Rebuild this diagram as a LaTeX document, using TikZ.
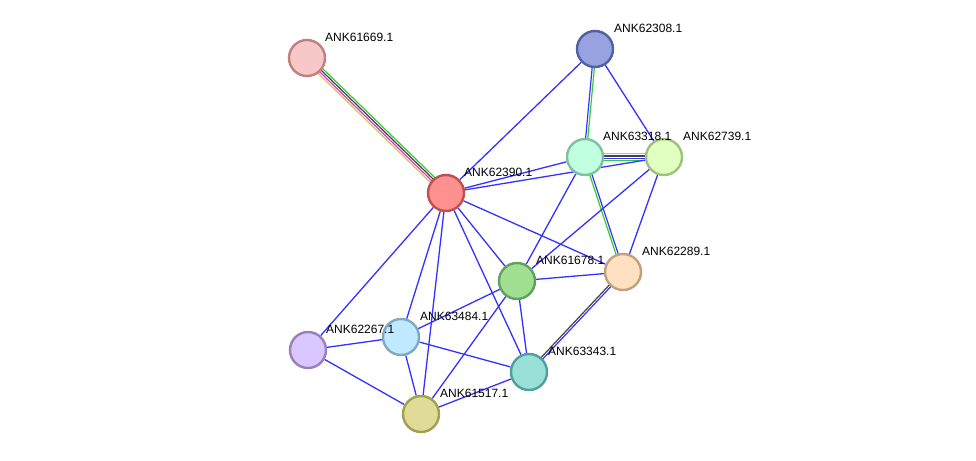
\documentclass[tikz,border=0pt]{standalone}
\usepackage{fontspec}
\setmainfont{Liberation Sans}
\usetikzlibrary{calc,backgrounds}
\definecolor{eblue}{HTML}{3333FF}
\definecolor{egreen}{HTML}{33CC33}
\definecolor{egray}{HTML}{444444}
\definecolor{emag}{HTML}{DD33DD}
\definecolor{eyel}{HTML}{C8C850}
\tikzset{
  prot/.style={circle, draw, line width=2.4pt, minimum size=36pt, inner sep=0pt},
  lbl/.style={anchor=south west, inner sep=0pt, font=\fontsize{12}{12}\selectfont, text=black},
  edge/.style={eblue, line width=1.3pt},
  par/.style={line width=1.2pt}
}
\newcommand{\offline}[4]{% color, offset, a, b
  \draw[par,#1] ($(#3.center)!#2!90:(#4.center)$) -- ($(#4.center)!#2!-90:(#3.center)$);}
\begin{document}
\begin{tikzpicture}[x=1pt,y=-1pt]
\useasboundingbox (0,0) rectangle (976,460);
% nodes
\node[prot, fill={rgb,255:red,248;green,200;blue,200}, draw={rgb,255:red,192;green,128;blue,128}] (n61669) at (307,58) {};
\node[prot, fill={rgb,255:red,152;green,162;blue,224}, draw={rgb,255:red,80;green,96;blue,160}] (n62308) at (595,49) {};
\node[prot, fill={rgb,255:red,255;green,144;blue,144}, draw={rgb,255:red,192;green,80;blue,80}] (n62390) at (446,193) {};
\node[prot, fill={rgb,255:red,192;green,255;blue,224}, draw={rgb,255:red,128;green,192;blue,160}] (n63318) at (585,157) {};
\node[prot, fill={rgb,255:red,224;green,255;blue,192}, draw={rgb,255:red,160;green,192;blue,128}] (n62739) at (664,157) {};
\node[prot, fill={rgb,255:red,255;green,224;blue,192}, draw={rgb,255:red,192;green,160;blue,128}] (n62289) at (623,272) {};
\node[prot, fill={rgb,255:red,160;green,224;blue,144}, draw={rgb,255:red,96;green,160;blue,96}] (n61678) at (517,281) {};
\node[prot, fill={rgb,255:red,216;green,200;blue,255}, draw={rgb,255:red,152;green,128;blue,192}] (n62267) at (308,350) {};
\node[prot, fill={rgb,255:red,192;green,232;blue,255}, draw={rgb,255:red,128;green,168;blue,192}] (n63484) at (401,337) {};
\node[prot, fill={rgb,255:red,152;green,224;blue,216}, draw={rgb,255:red,80;green,160;blue,152}] (n63343) at (529,372) {};
\node[prot, fill={rgb,255:red,224;green,220;blue,152}, draw={rgb,255:red,160;green,160;blue,80}] (n61517) at (421,414) {};
% labels
\node[lbl] (l61669) at (325,42) {ANK61669.1};
\node[lbl] (l62308) at (614,33) {ANK62308.1};
\node[lbl] (l62390) at (464,177) {ANK62390.1};
\node[lbl] (l63318) at (603,141) {ANK63318.1};
\node[lbl] (l62739) at (683,141) {ANK62739.1};
\node[lbl] (l62289) at (642,256) {ANK62289.1};
\node[lbl] (l61678) at (536,265) {ANK61678.1};
\node[lbl] (l62267) at (326,334) {ANK62267.1};
\node[lbl] (l63484) at (420,321) {ANK63484.1};
\node[lbl] (l63343) at (548,356) {ANK63343.1};
\node[lbl] (l61517) at (440,398) {ANK61517.1};
\begin{scope}[on background layer]
\fill[white] (0,0) rectangle (976,460);
% multi edges
\offline{egreen}{-3.3pt}{n62390}{n61669}
\offline{egray}{-1.1pt}{n62390}{n61669}
\offline{emag}{1.1pt}{n62390}{n61669}
\offline{eyel}{3.3pt}{n62390}{n61669}
\offline{eyel}{3.3pt}{n63318}{n62739}
\offline{egray}{1.1pt}{n63318}{n62739}
\offline{eblue}{-1.1pt}{n63318}{n62739}
\offline{egreen}{-3.3pt}{n63318}{n62739}
\offline{egreen}{-1.1pt}{n63318}{n62289}
\offline{eblue}{1.1pt}{n63318}{n62289}
\offline{egreen}{1.1pt}{n62308}{n63318}
\offline{eblue}{-1.1pt}{n62308}{n63318}
\offline{egray}{-1.1pt}{n62289}{n63343}
\offline{eblue}{1.1pt}{n62289}{n63343}
% single edges
\draw[edge] (n62390) -- (n62308);
\draw[edge] (n62390) -- (n63318);
\draw[edge] (n62390) -- (n62739);
\draw[edge] (n62390) -- (n62289);
\draw[edge] (n62390) -- (n61678);
\draw[edge] (n62390) -- (n63343);
\draw[edge] (n62390) -- (n62267);
\draw[edge] (n62390) -- (n63484);
\draw[edge] (n62390) -- (n61517);
\draw[edge] (n62308) -- (n62739);
\draw[edge] (n63318) -- (n61678);
\draw[edge] (n62739) -- (n61678);
\draw[edge] (n62739) -- (n62289);
\draw[edge] (n62289) -- (n61678);
\draw[edge] (n61678) -- (n63484);
\draw[edge] (n61678) -- (n61517);
\draw[edge] (n61678) -- (n63343);
\draw[edge] (n63484) -- (n62267);
\draw[edge] (n63484) -- (n61517);
\draw[edge] (n63484) -- (n63343);
\draw[edge] (n62267) -- (n61517);
\draw[edge] (n61517) -- (n63343);
\end{scope}
\end{tikzpicture}
\end{document}
